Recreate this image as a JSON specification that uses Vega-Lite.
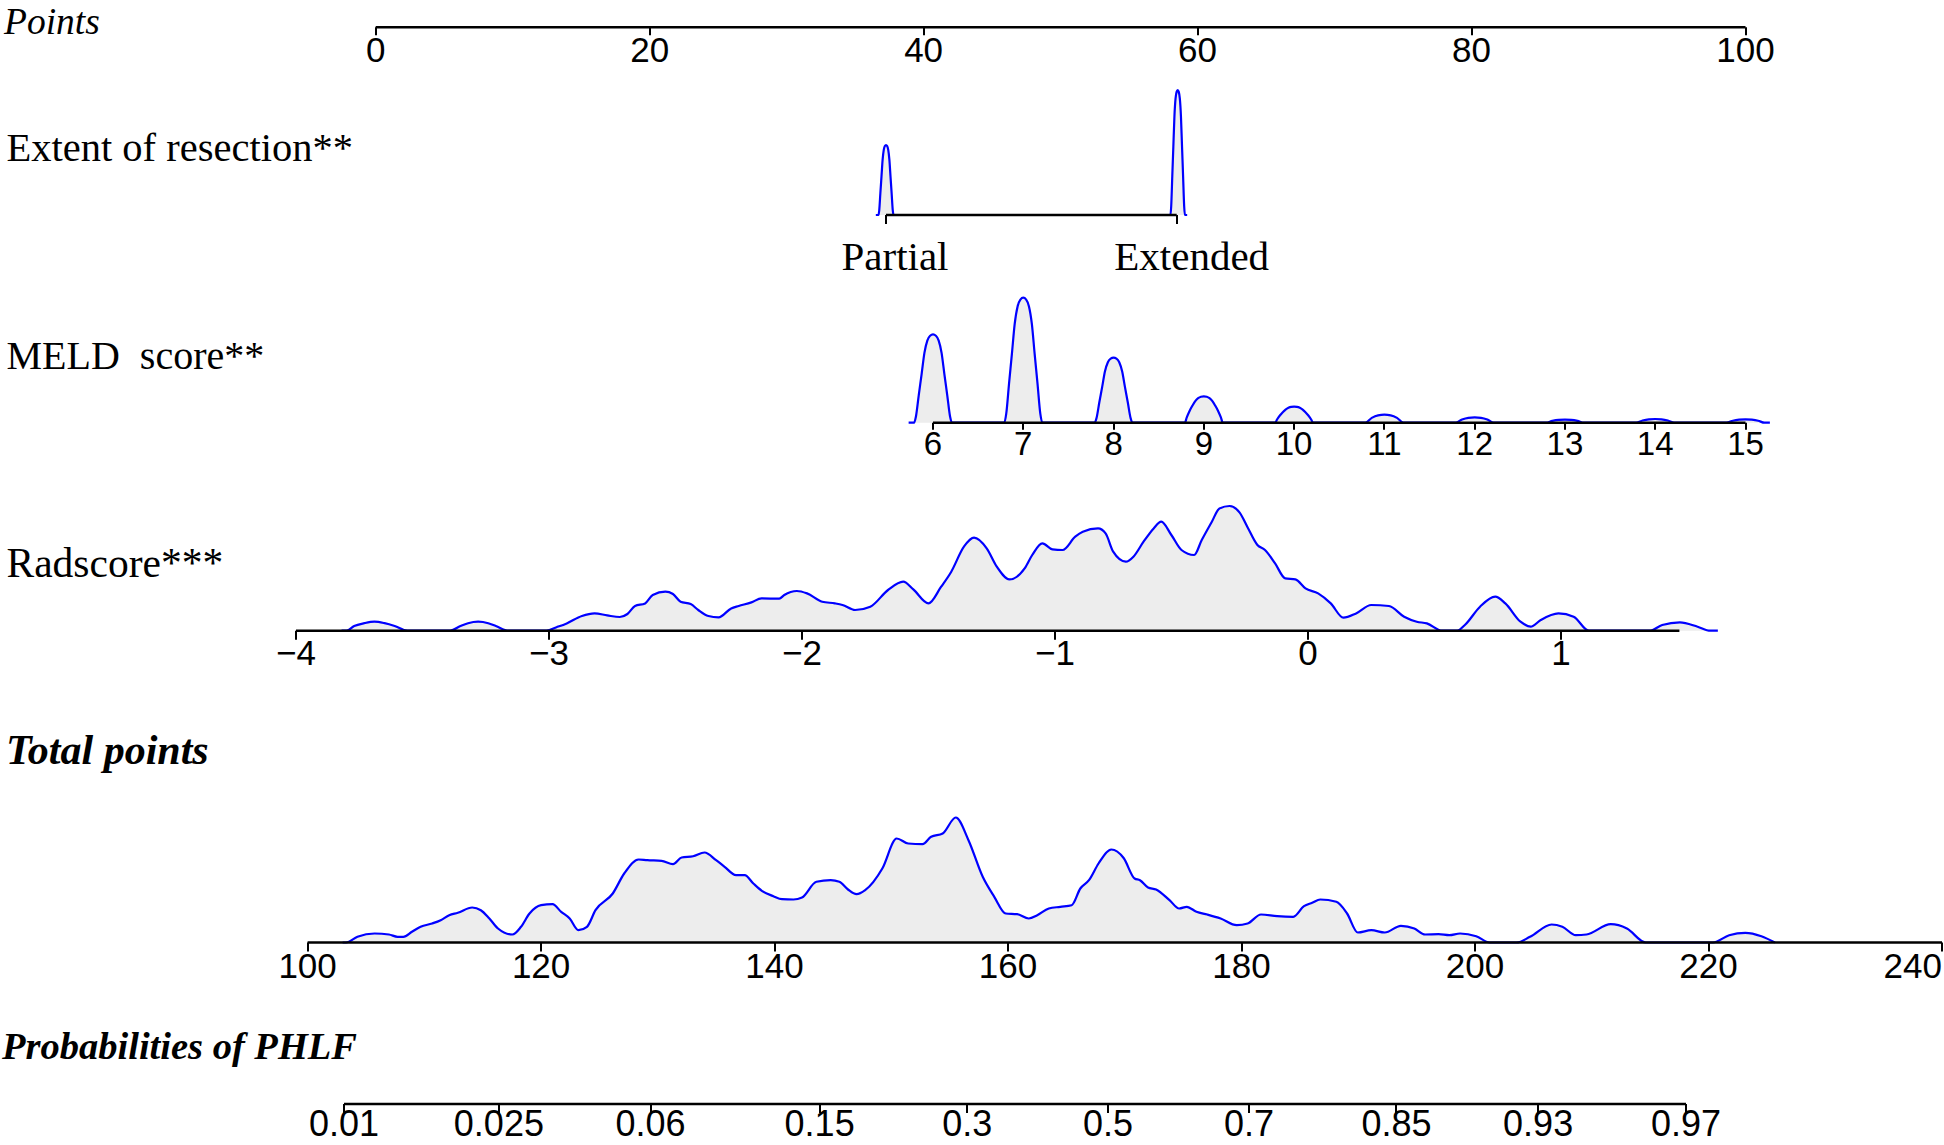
{
  "$schema": "https://vega.github.io/schema/vega-lite/v6.json",
  "width": 1944,
  "height": 1145,
  "autosize": {"type": "none"},
  "padding": 0,
  "background": "white",
  "config": {
    "view": {"stroke": null},
    "axis": {
      "grid": false,
      "domainColor": "#000000",
      "domainWidth": 2.6,
      "tickColor": "#000000",
      "tickWidth": 2,
      "translate": 0,
      "labelColor": "#000000",
      "labelFont": "Liberation Sans",
      "labelFlush": false,
      "labelOverlap": false,
      "titleColor": "#000000",
      "titleAngle": 0,
      "titleAlign": "left",
      "titleBaseline": "alphabetic",
      "titleFont": "Liberation Serif",
      "titleFontWeight": "normal",
      "zindex": 1
    }
  },
  "datasets": {
    "extent": [
      {"v": -0.035, "d": 0}, {"v": -0.0258, "d": 0}, {"v": -0.0232, "d": 4.9}, {"v": -0.0194, "d": 21.7}, {"v": -0.0155, "d": 38.5}, {"v": -0.0116, "d": 55.3}, {"v": -0.0077, "d": 65.1}, {"v": -0.0039, "d": 69}, {"v": 0, "d": 70}, {"v": 0.0039, "d": 69}, {"v": 0.0077, "d": 65.1}, {"v": 0.0116, "d": 55.3}, {"v": 0.0155, "d": 38.5}, {"v": 0.0194, "d": 21.7}, {"v": 0.0232, "d": 4.9}, {"v": 0.0258, "d": 0},
      {"v": 0.9786, "d": 0}, {"v": 0.9811, "d": 8.8}, {"v": 0.9848, "d": 38.8}, {"v": 0.9885, "d": 68.8}, {"v": 0.9922, "d": 98.8}, {"v": 0.996, "d": 116.3}, {"v": 0.9997, "d": 123.1}, {"v": 1.0034, "d": 125}, {"v": 1.0071, "d": 123.1}, {"v": 1.0108, "d": 116.3}, {"v": 1.0146, "d": 98.8}, {"v": 1.0183, "d": 68.8}, {"v": 1.022, "d": 38.8}, {"v": 1.0257, "d": 8.8}, {"v": 1.0282, "d": 0}, {"v": 1.036, "d": 0}
    ],
    "meld": [
      {"v": 5.73, "d": 0},
      {"v": 5.79, "d": 0}, {"v": 5.811, "d": 6.2}, {"v": 5.842, "d": 27.4}, {"v": 5.874, "d": 48.6}, {"v": 5.905, "d": 69.8}, {"v": 5.937, "d": 82.1}, {"v": 5.968, "d": 87}, {"v": 6, "d": 88.3}, {"v": 6.032, "d": 87}, {"v": 6.063, "d": 82.1}, {"v": 6.095, "d": 69.8}, {"v": 6.126, "d": 48.6}, {"v": 6.158, "d": 27.4}, {"v": 6.189, "d": 6.2}, {"v": 6.21, "d": 0},
      {"v": 6.79, "d": 0}, {"v": 6.811, "d": 8.8}, {"v": 6.842, "d": 38.8}, {"v": 6.874, "d": 68.8}, {"v": 6.905, "d": 98.8}, {"v": 6.937, "d": 116.3}, {"v": 6.968, "d": 123.1}, {"v": 7, "d": 125}, {"v": 7.032, "d": 123.1}, {"v": 7.063, "d": 116.3}, {"v": 7.095, "d": 98.8}, {"v": 7.126, "d": 68.8}, {"v": 7.158, "d": 38.8}, {"v": 7.189, "d": 8.8}, {"v": 7.21, "d": 0},
      {"v": 7.79, "d": 0}, {"v": 7.811, "d": 4.6}, {"v": 7.842, "d": 20.2}, {"v": 7.874, "d": 35.8}, {"v": 7.905, "d": 51.4}, {"v": 7.937, "d": 60.5}, {"v": 7.968, "d": 64}, {"v": 8, "d": 65}, {"v": 8.032, "d": 64}, {"v": 8.063, "d": 60.5}, {"v": 8.095, "d": 51.4}, {"v": 8.126, "d": 35.8}, {"v": 8.158, "d": 20.2}, {"v": 8.189, "d": 4.6}, {"v": 8.21, "d": 0},
      {"v": 8.79, "d": 0}, {"v": 8.811, "d": 5.3}, {"v": 8.842, "d": 11.8}, {"v": 8.874, "d": 17.1}, {"v": 8.905, "d": 21.6}, {"v": 8.937, "d": 24.5}, {"v": 8.968, "d": 25.9}, {"v": 9, "d": 26.3}, {"v": 9.032, "d": 25.9}, {"v": 9.063, "d": 24.5}, {"v": 9.095, "d": 21.6}, {"v": 9.126, "d": 17.1}, {"v": 9.158, "d": 11.8}, {"v": 9.189, "d": 5.3}, {"v": 9.21, "d": 0},
      {"v": 9.79, "d": 0}, {"v": 9.811, "d": 3.2}, {"v": 9.842, "d": 7.2}, {"v": 9.874, "d": 10.4}, {"v": 9.905, "d": 13.1}, {"v": 9.937, "d": 14.9}, {"v": 9.968, "d": 15.8}, {"v": 10, "d": 16}, {"v": 10.032, "d": 15.8}, {"v": 10.063, "d": 14.9}, {"v": 10.095, "d": 13.1}, {"v": 10.126, "d": 10.4}, {"v": 10.158, "d": 7.2}, {"v": 10.189, "d": 3.2}, {"v": 10.21, "d": 0},
      {"v": 10.79, "d": 0}, {"v": 10.86, "d": 4.8}, {"v": 10.93, "d": 7.4}, {"v": 11, "d": 8}, {"v": 11.07, "d": 7.4}, {"v": 11.14, "d": 4.8}, {"v": 11.21, "d": 0},
      {"v": 11.79, "d": 0}, {"v": 11.86, "d": 3.2}, {"v": 11.93, "d": 4.9}, {"v": 12, "d": 5.3}, {"v": 12.07, "d": 4.9}, {"v": 12.14, "d": 3.2}, {"v": 12.21, "d": 0},
      {"v": 12.79, "d": 0}, {"v": 12.86, "d": 1.8}, {"v": 12.93, "d": 2.8}, {"v": 13, "d": 3}, {"v": 13.07, "d": 2.8}, {"v": 13.14, "d": 1.8}, {"v": 13.21, "d": 0},
      {"v": 13.79, "d": 0}, {"v": 13.86, "d": 2.2}, {"v": 13.93, "d": 3.4}, {"v": 14, "d": 3.7}, {"v": 14.07, "d": 3.4}, {"v": 14.14, "d": 2.2}, {"v": 14.21, "d": 0},
      {"v": 14.79, "d": 0}, {"v": 14.86, "d": 2}, {"v": 14.93, "d": 3}, {"v": 15, "d": 3.3}, {"v": 15.07, "d": 3}, {"v": 15.14, "d": 2}, {"v": 15.21, "d": 0}, {"v": 15.27, "d": 0}
    ],
    "rad": [
      {"v": -3.82, "d": 0}, {"v": -3.8, "d": 0}, {"v": -3.77, "d": 4.7}, {"v": -3.73, "d": 7.5}, {"v": -3.69, "d": 9}, {"v": -3.65, "d": 7.5}, {"v": -3.61, "d": 4.7}, {"v": -3.56, "d": 0},
      {"v": -3.39, "d": 0}, {"v": -3.35, "d": 4.7}, {"v": -3.32, "d": 7.5}, {"v": -3.28, "d": 9}, {"v": -3.24, "d": 7.5}, {"v": -3.21, "d": 4.7}, {"v": -3.16, "d": 0},
      {"v": -3.01, "d": 0}, {"v": -2.97, "d": 3.5}, {"v": -2.93, "d": 7.3}, {"v": -2.87, "d": 14.7}, {"v": -2.82, "d": 17.3}, {"v": -2.77, "d": 15.3}, {"v": -2.72, "d": 13.7}, {"v": -2.69, "d": 16.7}, {"v": -2.66, "d": 24.7}, {"v": -2.62, "d": 27.3}, {"v": -2.59, "d": 35.7}, {"v": -2.54, "d": 39}, {"v": -2.51, "d": 36.7}, {"v": -2.48, "d": 29}, {"v": -2.44, "d": 26.7}, {"v": -2.41, "d": 20.7}, {"v": -2.37, "d": 14.7}, {"v": -2.33, "d": 13.3}, {"v": -2.28, "d": 22.3}, {"v": -2.25, "d": 24.7}, {"v": -2.2, "d": 28.3}, {"v": -2.16, "d": 32.3}, {"v": -2.09, "d": 32}, {"v": -2.07, "d": 35.7}, {"v": -2.02, "d": 39.7}, {"v": -1.98, "d": 37.3}, {"v": -1.92, "d": 29}, {"v": -1.87, "d": 27.3}, {"v": -1.84, "d": 25.7}, {"v": -1.79, "d": 20.7}, {"v": -1.73, "d": 24}, {"v": -1.66, "d": 40.7}, {"v": -1.6, "d": 49}, {"v": -1.56, "d": 41.3}, {"v": -1.5, "d": 27.3}, {"v": -1.45, "d": 44}, {"v": -1.41, "d": 59}, {"v": -1.36, "d": 84}, {"v": -1.32, "d": 93}, {"v": -1.27, "d": 82.3}, {"v": -1.23, "d": 64}, {"v": -1.18, "d": 51.3}, {"v": -1.12, "d": 62.3}, {"v": -1.09, "d": 75.7}, {"v": -1.05, "d": 87.3}, {"v": -1.01, "d": 81.3}, {"v": -0.97, "d": 80.7}, {"v": -0.92, "d": 94}, {"v": -0.89, "d": 99}, {"v": -0.83, "d": 102.3}, {"v": -0.8, "d": 97.3}, {"v": -0.77, "d": 79}, {"v": -0.72, "d": 69}, {"v": -0.69, "d": 74}, {"v": -0.65, "d": 89}, {"v": -0.61, "d": 102.3}, {"v": -0.58, "d": 109}, {"v": -0.54, "d": 95.7}, {"v": -0.5, "d": 80.7}, {"v": -0.45, "d": 75.7}, {"v": -0.42, "d": 90.7}, {"v": -0.38, "d": 109}, {"v": -0.35, "d": 122.3}, {"v": -0.31, "d": 124.7}, {"v": -0.27, "d": 118}, {"v": -0.24, "d": 104}, {"v": -0.2, "d": 85.7}, {"v": -0.17, "d": 80.7}, {"v": -0.13, "d": 67.3}, {"v": -0.09, "d": 52.3}, {"v": -0.05, "d": 51.3}, {"v": -0.01, "d": 42.3}, {"v": 0.04, "d": 37.3}, {"v": 0.09, "d": 27.3}, {"v": 0.14, "d": 13}, {"v": 0.19, "d": 17.3}, {"v": 0.25, "d": 25.7}, {"v": 0.32, "d": 24.7}, {"v": 0.38, "d": 14}, {"v": 0.43, "d": 9}, {"v": 0.47, "d": 7.3}, {"v": 0.53, "d": 0},
      {"v": 0.59, "d": 0}, {"v": 0.62, "d": 5.7}, {"v": 0.68, "d": 24}, {"v": 0.74, "d": 34}, {"v": 0.78, "d": 27.3}, {"v": 0.84, "d": 9}, {"v": 0.88, "d": 4}, {"v": 0.92, "d": 10.7}, {"v": 0.99, "d": 17.3}, {"v": 1.05, "d": 14}, {"v": 1.11, "d": 0},
      {"v": 1.35, "d": 0}, {"v": 1.4, "d": 5.7}, {"v": 1.47, "d": 8.3}, {"v": 1.54, "d": 4}, {"v": 1.59, "d": 0}, {"v": 1.62, "d": 0}
    ],
    "total": [
      {"v": 103.0, "d": 0}, {"v": 103.29, "d": 0}, {"v": 104.27, "d": 5.7}, {"v": 105.74, "d": 9}, {"v": 106.97, "d": 8}, {"v": 107.71, "d": 5.7}, {"v": 108.2, "d": 5.7}, {"v": 108.94, "d": 10.7}, {"v": 109.68, "d": 15.7}, {"v": 110.66, "d": 19}, {"v": 111.4, "d": 22.3}, {"v": 112.13, "d": 27.3}, {"v": 112.87, "d": 29.7}, {"v": 114.1, "d": 35}, {"v": 114.84, "d": 32.3}, {"v": 115.57, "d": 24}, {"v": 116.31, "d": 14}, {"v": 117.54, "d": 8}, {"v": 118.28, "d": 15.7}, {"v": 119.01, "d": 29}, {"v": 120.0, "d": 37.3}, {"v": 120.98, "d": 38.3}, {"v": 121.72, "d": 30.7}, {"v": 122.45, "d": 24}, {"v": 123.19, "d": 12.3}, {"v": 123.93, "d": 15.7}, {"v": 124.66, "d": 32.3}, {"v": 126.14, "d": 49}, {"v": 127.12, "d": 69}, {"v": 128.35, "d": 83}, {"v": 129.09, "d": 82.3}, {"v": 130.32, "d": 81.7}, {"v": 131.3, "d": 78.3}, {"v": 132.04, "d": 85}, {"v": 133.02, "d": 86.3}, {"v": 134.0, "d": 90}, {"v": 134.99, "d": 82.3}, {"v": 135.72, "d": 75.7}, {"v": 136.7, "d": 67.3}, {"v": 137.44, "d": 67.3}, {"v": 138.18, "d": 59}, {"v": 138.91, "d": 51.7}, {"v": 139.9, "d": 46.3}, {"v": 140.64, "d": 43.3}, {"v": 141.62, "d": 43}, {"v": 142.35, "d": 45}, {"v": 143.58, "d": 60.7}, {"v": 144.81, "d": 62.3}, {"v": 145.55, "d": 60.7}, {"v": 146.29, "d": 53}, {"v": 147.02, "d": 48.3}, {"v": 147.76, "d": 52.3}, {"v": 149.23, "d": 74}, {"v": 150.46, "d": 104}, {"v": 151.45, "d": 99}, {"v": 152.67, "d": 98.3}, {"v": 153.41, "d": 105.7}, {"v": 154.4, "d": 109}, {"v": 155.52, "d": 125}, {"v": 156.61, "d": 102.3}, {"v": 157.83, "d": 65.7}, {"v": 158.82, "d": 45.7}, {"v": 159.8, "d": 29}, {"v": 160.78, "d": 28.3}, {"v": 161.77, "d": 24}, {"v": 162.5, "d": 27.3}, {"v": 163.49, "d": 34}, {"v": 164.47, "d": 35.7}, {"v": 165.45, "d": 37.3}, {"v": 166.19, "d": 54}, {"v": 166.93, "d": 62.3}, {"v": 167.75, "d": 79}, {"v": 168.85, "d": 93}, {"v": 169.9, "d": 84.5}, {"v": 170.84, "d": 64}, {"v": 171.3, "d": 62.3}, {"v": 171.99, "d": 55}, {"v": 172.68, "d": 53}, {"v": 173.83, "d": 42.3}, {"v": 174.66, "d": 34}, {"v": 175.31, "d": 35.7}, {"v": 176.14, "d": 30.7}, {"v": 177.06, "d": 28}, {"v": 178.21, "d": 24}, {"v": 179.59, "d": 17.3}, {"v": 180.52, "d": 19}, {"v": 181.67, "d": 28}, {"v": 183.05, "d": 26.3}, {"v": 184.43, "d": 25.7}, {"v": 185.35, "d": 36.3}, {"v": 186.05, "d": 39.7}, {"v": 186.74, "d": 43}, {"v": 188.12, "d": 40.7}, {"v": 189.04, "d": 29}, {"v": 189.96, "d": 10}, {"v": 191.12, "d": 12.3}, {"v": 192.27, "d": 10}, {"v": 193.65, "d": 16.7}, {"v": 194.8, "d": 14}, {"v": 195.72, "d": 8}, {"v": 196.88, "d": 8.3}, {"v": 197.8, "d": 7.3}, {"v": 198.72, "d": 9}, {"v": 200.1, "d": 6.3}, {"v": 201.26, "d": 0},
      {"v": 203.56, "d": 0}, {"v": 204.71, "d": 5.7}, {"v": 206.56, "d": 18}, {"v": 207.48, "d": 15.7}, {"v": 208.63, "d": 7.3}, {"v": 209.55, "d": 8}, {"v": 211.63, "d": 18.3}, {"v": 213.01, "d": 14}, {"v": 214.62, "d": 0},
      {"v": 220.38, "d": 0}, {"v": 221.77, "d": 7.3}, {"v": 223.15, "d": 9.7}, {"v": 224.53, "d": 6.3}, {"v": 225.69, "d": 0}
    ]
  },
  "resolve": {
    "scale": {"x": "independent", "y": "independent"},
    "axis": {"x": "independent", "y": "independent"}
  },
  "layer": [
    {
      "data": {"values": [{"pts": 0}, {"pts": 100}]},
      "mark": {"type": "point", "opacity": 0},
      "encoding": {
        "x": {
          "field": "pts", "type": "quantitative",
          "scale": {"domain": [0, 100], "range": [375.7, 1745.5], "nice": false, "zero": false},
          "axis": {
            "orient": "bottom", "offset": -1117.7, "values": [0, 20, 40, 60, 80, 100], "format": "d", "zindex": 1,
            "labelFontSize": 35, "tickSize": 8, "labelPadding": -1.3,
            "title": "Points", "titleX": 4, "titleY": 6.8, "titleFontSize": 37.5, "titleFontStyle": "italic"
          }
        }
      }
    },
    {
      "data": {"name": "extent"},
      "encoding": {
        "x": {
          "field": "v", "type": "quantitative",
          "scale": {"domain": [0, 1], "range": [886, 1176.7], "nice": false, "zero": false},
          "axis": {
            "orient": "bottom", "offset": -930, "values": [0, 1], "zindex": 1,
            "labelExpr": "datum.value == 0 ? 'Partial' : 'Extended'",
            "labelFont": "Liberation Serif", "labelFontSize": 41, "tickSize": 9, "labelPadding": 13.6,
            "labelOffset": {"condition": {"test": "datum.value == 0", "value": 9}, "value": 15},
            "title": "Extent of resection**", "titleX": 6.5, "titleY": -54, "titleFontSize": 40.5
          }
        },
        "y": {"field": "d", "type": "quantitative", "scale": {"domain": [0, 130], "range": [215, 85], "nice": false}, "axis": null}
      },
      "layer": [
        {"mark": {"type": "area", "color": "#EDEDED", "interpolate": "monotone"}, "encoding": {"y2": {"datum": 0}}},
        {"mark": {"type": "line", "color": "#0000FF", "strokeWidth": 2.2, "interpolate": "monotone"}}
      ]
    },
    {
      "data": {"name": "meld"},
      "encoding": {
        "x": {
          "field": "v", "type": "quantitative",
          "scale": {"domain": [6, 15], "range": [933, 1745.5], "nice": false, "zero": false},
          "axis": {
            "orient": "bottom", "offset": -722.3, "values": [6, 7, 8, 9, 10, 11, 12, 13, 14, 15], "format": "d", "zindex": 1,
            "labelFontSize": 33, "tickSize": 7, "labelPadding": -1,
            "title": "MELD\u00a0 score**", "titleX": 6.5, "titleY": -53.4, "titleFontSize": 40
          }
        },
        "y": {"field": "d", "type": "quantitative", "scale": {"domain": [0, 130], "range": [422.7, 292.7], "nice": false}, "axis": null}
      },
      "layer": [
        {"mark": {"type": "area", "color": "#EDEDED", "interpolate": "monotone"}, "encoding": {"y2": {"datum": 0}}},
        {"mark": {"type": "line", "color": "#0000FF", "strokeWidth": 2.2, "interpolate": "monotone"}}
      ]
    },
    {
      "data": {"name": "rad"},
      "encoding": {
        "x": {
          "field": "v", "type": "quantitative",
          "scale": {"domain": [-4, 1.468], "range": [296, 1679.4], "nice": false, "zero": false},
          "axis": {
            "orient": "bottom", "offset": -514.3, "values": [-4, -3, -2, -1, 0, 1], "format": "d", "zindex": 1,
            "labelFontSize": 35, "tickSize": 9, "labelPadding": -2.6,
            "title": "Radscore***", "titleX": 6.5, "titleY": -54, "titleFontSize": 41.5
          }
        },
        "y": {"field": "d", "type": "quantitative", "scale": {"domain": [0, 130], "range": [630.7, 500.7], "nice": false}, "axis": null}
      },
      "layer": [
        {"mark": {"type": "area", "color": "#EDEDED", "interpolate": "monotone"}, "encoding": {"y2": {"datum": 0}}},
        {"mark": {"type": "line", "color": "#0000FF", "strokeWidth": 2.2, "interpolate": "monotone"}}
      ]
    },
    {
      "data": {"name": "total"},
      "encoding": {
        "x": {
          "field": "v", "type": "quantitative",
          "scale": {"domain": [100, 240], "range": [307.6, 1942], "nice": false, "zero": false},
          "axis": {
            "orient": "bottom", "offset": -202.5, "values": [100, 120, 140, 160, 180, 200, 220, 240], "format": "d", "zindex": 1,
            "labelFontSize": 35, "tickSize": 9, "labelPadding": -2,
            "labelAlign": {"condition": {"test": "datum.value == 240", "value": "right"}, "value": "center"},
            "title": "Total points", "titleX": 6, "titleY": -178.2, "titleFontSize": 42, "titleFontStyle": "italic", "titleFontWeight": "bold"
          }
        },
        "y": {"field": "d", "type": "quantitative", "scale": {"domain": [0, 130], "range": [942.5, 812.5], "nice": false}, "axis": null}
      },
      "layer": [
        {"mark": {"type": "area", "color": "#EDEDED", "interpolate": "monotone"}, "encoding": {"y2": {"datum": 0}}},
        {"mark": {"type": "line", "color": "#0000FF", "strokeWidth": 2.2, "interpolate": "monotone"}}
      ]
    },
    {
      "data": {"values": [{"logodds": -4.59512}, {"logodds": 3.4761}]},
      "mark": {"type": "point", "opacity": 0},
      "encoding": {
        "x": {
          "field": "logodds", "type": "quantitative",
          "scale": {"domain": [-4.59512, 3.4761], "range": [344, 1686], "nice": false, "zero": false},
          "axis": {
            "orient": "bottom", "offset": -41, "zindex": 1,
            "values": [-4.59512, -3.66356, -2.75154, -1.7346, -0.847298, 0, 0.847298, 1.7346, 2.58669, 3.4761],
            "labelExpr": "format(1/(1+exp(-datum.value)), '.3~g')",
            "labelFontSize": 36, "tickSize": 9, "labelPadding": -4.7,
            "title": "Probabilities of PHLF", "titleX": 2, "titleY": -44.8, "titleFontSize": 38.5, "titleFontStyle": "italic", "titleFontWeight": "bold"
          }
        }
      }
    }
  ]
}
